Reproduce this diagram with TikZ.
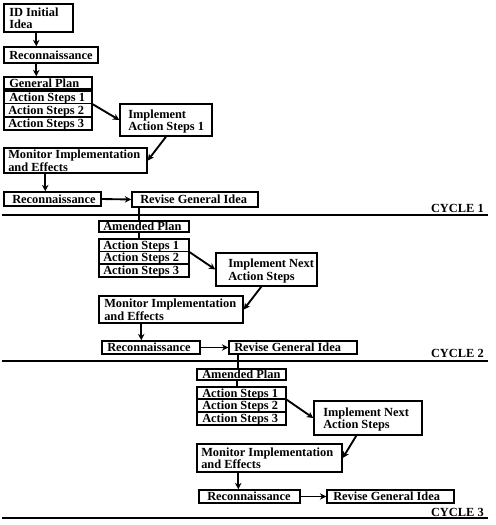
\documentclass[tikz,border=0pt]{standalone}
\usepackage{fontspec}
\setmainfont{Liberation Serif}
\usetikzlibrary{arrows.meta,calc}
\tikzset{
  box/.style={draw, line width=1.1pt, inner sep=0pt},
  lbl/.style={anchor=base west, inner sep=0pt, font=\fontsize{9.3}{9.3}\selectfont\bfseries},
  arr/.style={line width=1.4pt, -{Stealth[length=4.8pt,width=4.8pt]}},
  ln/.style={line width=1.4pt},
  sep/.style={line width=1.1pt},
  cyc/.style={anchor=base east, inner sep=0pt, font=\fontsize{9.3}{9.3}\selectfont\bfseries}
}
% one-line box: name, x1, y1, x2, y2, text x, text   (reference pixels)
\newcommand\boxone[7]{%
  \pgfmathsetmacro\mywd{(#4-#2)*0.75}%
  \pgfmathsetmacro\myht{(#5-#3)*0.75}%
  \pgfmathsetmacro\mybl{(#3+#5)/2+4.1}%
  \node[box, minimum width=\mywd pt, minimum height=\myht pt] (#1) at ({(#2+#4)/2},{(#3+#5)/2}) {};
  \node[lbl] (#1t) at (#6,\mybl) {#7};}
% two-line box: name, x1, y1, x2, y2, text x, line 1, line 2
\newcommand\boxtwo[8]{%
  \pgfmathsetmacro\mywd{(#4-#2)*0.75}%
  \pgfmathsetmacro\myht{(#5-#3)*0.75}%
  \pgfmathsetmacro\mybla{(#3+#5)/2-1.9}%
  \pgfmathsetmacro\myblb{(#3+#5)/2+10.5}%
  \node[box, minimum width=\mywd pt, minimum height=\myht pt] (#1) at ({(#2+#4)/2},{(#3+#5)/2}) {};
  \node[lbl] (#1ta) at (#6,\mybla) {#7};
  \node[lbl] (#1tb) at (#6,\myblb) {#8};}
\begin{document}
\begin{tikzpicture}[x=0.75pt,y=-0.75pt]
\useasboundingbox (0,0) rectangle (496,525);
% ---------- cycle 1
\boxtwo{id}{4}{4}{73}{32}{9}{ID Initial}{Idea}
\boxone{r1}{4}{47}{98}{63}{9}{Reconnaissance}
\boxone{gp}{4}{77}{92}{89}{9}{General Plan}
\boxone{a11}{4}{91}{92}{103.5}{9}{Action Steps 1}
\boxone{a12}{4}{103.5}{92}{117}{8}{Action Steps 2}
\boxone{a13}{4}{117}{92}{130}{8}{Action Steps 3}
\boxtwo{im1}{120}{104}{212}{136}{128}{Implement}{Action Steps 1}
\boxtwo{mo1}{4}{148}{147}{173}{8}{Monitor Implementation}{and Effects}
\boxone{r2}{4}{192}{101}{206}{12}{Reconnaissance}
\boxone{rv1}{132}{192}{258}{207}{140}{Revise General Idea}
% ---------- cycle 2
\boxone{am2}{99}{221}{189}{232}{103}{Amended Plan}
\boxone{a21}{99}{239}{189}{251.5}{103}{Action Steps 1}
\boxone{a22}{99}{251.5}{189}{264}{103}{Action Steps 2}
\boxone{a23}{99}{264}{189}{277}{103}{Action Steps 3}
\boxtwo{im2}{216}{253}{317}{286}{228}{Implement Next}{Action Steps}
\boxtwo{mo2}{99}{296}{243}{323}{104}{Monitor Implementation}{and Effects}
\boxone{r3}{102}{341}{200}{354}{107}{Reconnaissance}
\boxone{rv2}{229}{341}{357}{354}{234}{Revise General Idea}
% ---------- cycle 3
\boxone{am3}{197}{369}{286}{380}{202}{Amended Plan}
\boxone{a31}{197}{387}{286}{399}{202}{Action Steps 1}
\boxone{a32}{197}{399}{286}{412}{202}{Action Steps 2}
\boxone{a33}{197}{412}{286}{425}{202}{Action Steps 3}
\boxtwo{im3}{314}{401}{422}{435}{323}{Implement Next}{Action Steps}
\boxtwo{mo3}{197}{444}{342}{472}{201}{Monitor Implementation}{and Effects}
\boxone{r4}{199}{490}{300}{503}{207}{Reconnaissance}
\boxone{rv3}{327}{490}{454}{503}{333}{Revise General Idea}
% ---------- separators and labels
\coordinate (s1a) at (2,215);   \coordinate (s1b) at (488,215);
\coordinate (s2a) at (2,361);   \coordinate (s2b) at (488,361);
\coordinate (s3a) at (2,518);   \coordinate (s3b) at (488,518);
\draw[sep] (s1a) -- (s1b);
\draw[sep] (s2a) -- (s2b);
\draw[sep] (s3a) -- (s3b);
\node[cyc] (cy1) at (484,212.2) {CYCLE 1};
\node[cyc] (cy2) at (484,357.2) {CYCLE 2};
\node[cyc] (cy3) at (484,516.2) {CYCLE 3};
% ---------- connectors cycle 1
\coordinate (c1) at ([xshift=33*0.75pt]id.south west);
\draw[arr] (c1) -- (c1 |- r1.north);
\coordinate (c2) at ([xshift=33*0.75pt]r1.south west);
\draw[arr] (c2) -- (c2 |- gp.north);
\coordinate (c3) at ([xshift=33*0.75pt]gp.south west);
\draw[ln] (c3) -- (c3 |- a11.north);
\draw[arr] (a11.south east) -- (im1.west);
\draw[arr] (im1.south) -- (mo1.east);
\coordinate (c4) at ([xshift=42*0.75pt]mo1.south west);
\draw[arr] (c4) -- (c4 |- r2.north);
\draw[arr] (r2.east) -- (rv1.west);
\coordinate (c5) at ([xshift=8*0.75pt]rv1.south west);
\draw[ln] (c5) -- (c5 |- am2.north);
% ---------- connectors cycle 2
\coordinate (c6) at ([xshift=41*0.75pt]am2.south west);
\draw[ln] (c6) -- (c6 |- a21.north);
\draw[arr] (a21.south east) -- (im2.west);
\coordinate (c7) at ([xshift=46*0.75pt]im2.south west);
\draw[arr] (c7) -- (mo2.east);
\coordinate (c8) at ([xshift=43*0.75pt]mo2.south west);
\draw[arr] (c8) -- (c8 |- r3.north);
\draw[arr] (r3.east) -- (rv2.west);
\coordinate (c9) at ([xshift=10*0.75pt]rv2.south west);
\draw[ln] (c9) -- (c9 |- am3.north);
% ---------- connectors cycle 3
\coordinate (c10) at ([xshift=41*0.75pt]am3.south west);
\draw[ln] (c10) -- (c10 |- a31.north);
\draw[arr] (a31.south east) -- (im3.west);
\coordinate (c11) at ([xshift=43*0.75pt]im3.south west);
\draw[arr] (c11) -- (mo3.east);
\coordinate (c12) at ([xshift=42*0.75pt]mo3.south west);
\draw[arr] (c12) -- (c12 |- r4.north);
\draw[arr] (r4.east) -- (rv3.west);
\end{tikzpicture}
\end{document}
